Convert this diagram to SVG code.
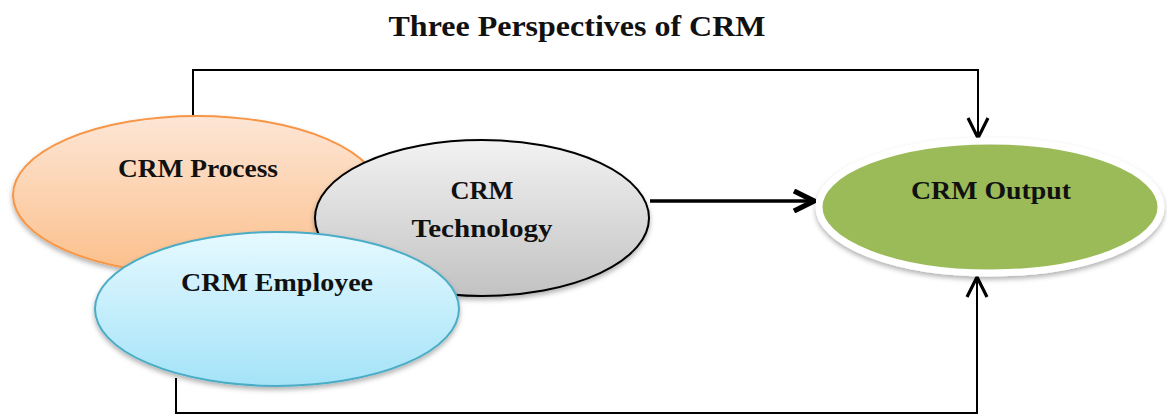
<svg xmlns="http://www.w3.org/2000/svg" width="1167" height="417" viewBox="0 0 1167 417">
<style>
.lbl{font-family:"Liberation Serif","Times New Roman",serif;font-weight:bold;fill:#111;text-anchor:middle}
.n{font-size:26px}
.conn{fill:none;stroke:#000;stroke-width:2}
.thick{stroke-width:3.5}
</style>
<defs>
<linearGradient id="gP" x1="0" y1="0" x2="0" y2="1"><stop offset="0" stop-color="#fde6d6"/><stop offset="1" stop-color="#fbbf8a"/></linearGradient>
<linearGradient id="gT" x1="0" y1="0" x2="0" y2="1"><stop offset="0" stop-color="#f2f2f2"/><stop offset="1" stop-color="#c2c2c2"/></linearGradient>
<linearGradient id="gE" x1="0" y1="0" x2="0" y2="1"><stop offset="0" stop-color="#e6f9ff"/><stop offset="1" stop-color="#a4e3f8"/></linearGradient>
<filter id="sh" x="-10%" y="-10%" width="120%" height="130%"><feDropShadow dx="0" dy="3" stdDeviation="2.5" flood-color="#000" flood-opacity="0.3"/></filter>
<marker id="ahT" viewBox="0 0 12 12" refX="11" refY="6" markerWidth="24" markerHeight="24" markerUnits="userSpaceOnUse" orient="auto"><path d="M1,1 L11,6 L1,11" fill="none" stroke="#000" stroke-width="1.6"/></marker>
<marker id="ahB" viewBox="0 0 12 12" refX="11" refY="6" markerWidth="24" markerHeight="24" markerUnits="userSpaceOnUse" orient="auto"><path d="M1,1 L11,6 L1,11" fill="none" stroke="#000" stroke-width="2.6"/></marker>
</defs>
<text class="lbl" x="577" y="36" font-size="30" textLength="377" lengthAdjust="spacingAndGlyphs">Three Perspectives of CRM</text>
<g id="connectors">
<path class="conn" d="M193,116 V70 H978 V138" marker-end="url(#ahT)"/>
<path class="conn" d="M176,378 V413 H977 V277" marker-end="url(#ahT)"/>
<path class="conn thick" d="M650,201 H814" marker-end="url(#ahB)"/>
</g>
<g id="process">
<ellipse cx="197" cy="195" rx="184" ry="79" fill="url(#gP)" stroke="#f79646" stroke-width="2" filter="url(#sh)"/>
<text class="lbl n" x="198" y="177" textLength="160" lengthAdjust="spacingAndGlyphs">CRM Process</text>
</g>
<g id="technology">
<ellipse cx="482" cy="218" rx="167" ry="78" fill="url(#gT)" stroke="#000" stroke-width="2" filter="url(#sh)"/>
<text class="lbl n" x="482" y="199" textLength="63" lengthAdjust="spacingAndGlyphs">CRM</text>
<text class="lbl n" x="482" y="237" textLength="141" lengthAdjust="spacingAndGlyphs">Technology</text>
</g>
<g id="employee">
<ellipse cx="277" cy="309" rx="182" ry="77" fill="url(#gE)" stroke="#4bacc6" stroke-width="2" filter="url(#sh)"/>
<text class="lbl n" x="277" y="291" textLength="192" lengthAdjust="spacingAndGlyphs">CRM Employee</text>
</g>
<g id="output">
<ellipse cx="990" cy="207" rx="171" ry="66" fill="#9bbb59" stroke="#fff" stroke-width="7" filter="url(#sh)"/>
<text class="lbl n" x="991" y="199" textLength="160" lengthAdjust="spacingAndGlyphs">CRM Output</text>
</g>
</svg>
